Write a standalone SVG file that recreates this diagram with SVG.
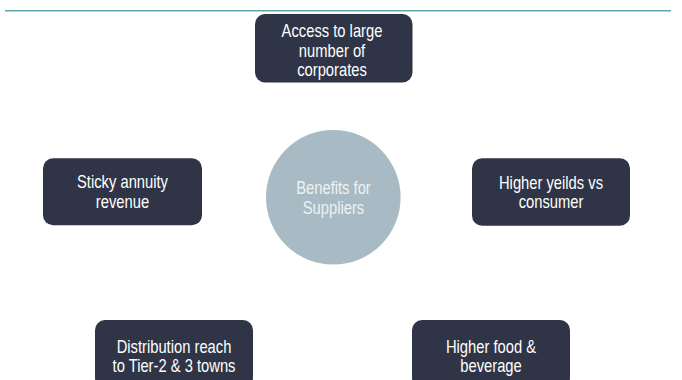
<svg xmlns="http://www.w3.org/2000/svg" width="682" height="380" viewBox="0 0 682 380">
  <style>
    .box { fill: #2f3546; }
    .hub { fill: #a8bac3; }
    .lbl { font-family: "Liberation Sans", Arial, sans-serif; font-size: 18px; fill: #ffffff; text-anchor: middle; }
    .hub-lbl { fill: #eef2f4; }
    .rule { stroke: #5fa7ad; stroke-width: 1.5; fill: none; }
  </style>

  <rect width="682" height="380" fill="#ffffff"/>

  <!-- header rule -->
  <line class="rule" x1="5" y1="10.7" x2="671" y2="10.7"/>

  <!-- connectors: none drawn, nodes are arranged radially -->
  <g id="connectors"/>

  <!-- central hub -->
  <g id="hub">
    <circle class="hub" cx="333.3" cy="197.3" r="67.3"/>
    <g transform="translate(333.5 0) scale(0.82 1)">
      <text class="lbl hub-lbl" x="0" y="194">Benefits for</text>
      <text class="lbl hub-lbl" x="0" y="214">Suppliers</text>
    </g>
  </g>

  <!-- top -->
  <g id="corporates">
    <rect class="box" x="255" y="14" width="157.5" height="68.5" rx="10"/>
    <g transform="translate(332 0) scale(0.82 1)">
      <text class="lbl" x="0" y="37">Access to large</text>
      <text class="lbl" x="0" y="57">number of</text>
      <text class="lbl" x="0" y="76.5">corporates</text>
    </g>
  </g>

  <!-- left -->
  <g id="annuity">
    <rect class="box" x="43" y="158.3" width="159" height="67" rx="10"/>
    <g transform="translate(122.5 0) scale(0.82 1)">
      <text class="lbl" x="0" y="188">Sticky annuity</text>
      <text class="lbl" x="0" y="208">revenue</text>
    </g>
  </g>

  <!-- right -->
  <g id="yields">
    <rect class="box" x="472" y="158.3" width="158" height="67.5" rx="10"/>
    <g transform="translate(551 0) scale(0.82 1)">
      <text class="lbl" x="0" y="189">Higher yeilds vs</text>
      <text class="lbl" x="0" y="208.5">consumer</text>
    </g>
  </g>

  <!-- bottom left -->
  <g id="distribution">
    <rect class="box" x="95" y="320" width="158" height="68" rx="10"/>
    <g transform="translate(174 0) scale(0.82 1)">
      <text class="lbl" x="0" y="352.7">Distribution reach</text>
      <text class="lbl" x="0" y="372.3">to Tier-2 &amp; 3 towns</text>
    </g>
  </g>

  <!-- bottom right -->
  <g id="food">
    <rect class="box" x="412" y="320" width="158" height="68" rx="10"/>
    <g transform="translate(491 0) scale(0.82 1)">
      <text class="lbl" x="0" y="352.7">Higher food &amp;</text>
      <text class="lbl" x="0" y="372.3">beverage</text>
    </g>
  </g>
</svg>
